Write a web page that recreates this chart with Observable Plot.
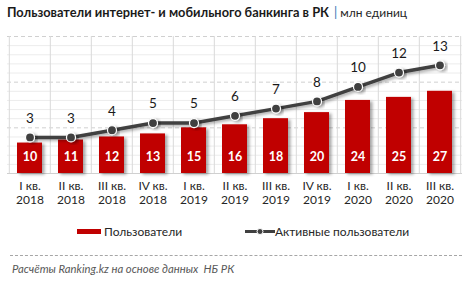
<!DOCTYPE html>
<html>
<head>
<meta charset="utf-8">
<script src="https://cdn.jsdelivr.net/npm/d3@7"></script>
<script src="https://cdn.jsdelivr.net/npm/@observablehq/plot@0.6"></script>
<style>
  html, body { margin: 0; padding: 0; background: #fff; }
  #wrap { position: relative; width: 472px; height: 283px; overflow: hidden; font-family: Lato, "Open Sans", sans-serif; }
  #title { position: absolute; left: 7px; top: 4px; font-size: 12.8px; font-weight: bold; color: #1a1a1a; white-space: nowrap; }
  #title .sep { color: #2e75b6; font-weight: normal; margin: 0 3px 0 5px; }
  #title .unit { font-weight: normal; color: #262626; font-size: 12px; }
  #chart { position: absolute; left: 0; top: 26px; }
  .leg { position: absolute; top: 224px; font-size: 12px; color: #262626; white-space: nowrap; }
  #sepline { position: absolute; left: 10px; top: 255px; width: 452px; border-top: 1px dashed #a6a6a6; }
  #caption { position: absolute; left: 12px; top: 262px; font-size: 11.3px; font-style: italic; color: #595959; white-space: nowrap; }
</style>
</head>
<body>
<div id="wrap">
  <div id="title">Пользователи интернет- и мобильного банкинга в РК<span class="sep">|</span><span class="unit">млн единиц</span></div>
  <div id="chart"></div>
  <div class="leg" style="left:77px"><svg width="27" height="12" style="vertical-align:-1px"><rect x="0" y="4" width="24" height="5" fill="#c00000"></rect></svg>Пользователи</div>
  <div class="leg" style="left:245px"><svg width="30" height="12" style="vertical-align:-1px"><line x1="0" x2="30" y1="6.5" y2="6.5" stroke="#404040" stroke-width="3"></line><circle cx="15" cy="6.5" r="3" fill="#404040" stroke="#fff" stroke-width="1"></circle></svg>Активные пользователи</div>
  <div id="sepline"></div>
  <div id="caption">Расчёты Ranking.kz на основе данных&nbsp; НБ РК</div>
</div>
<script>
// Quarters and their two-line labels
const quarters = ["I кв.", "II кв.", "III кв.", "IV кв.", "I кв.", "II кв.", "III кв.", "IV кв.", "I кв.", "II кв.", "III кв."];
const years = ["2018", "2018", "2018", "2018", "2019", "2019", "2019", "2019", "2020", "2020", "2020"];
// Users, million
const users = [10, 11, 12, 13, 15, 16, 18, 20, 24, 25, 27];
// Active users, million
const activeUsers = [3, 3, 4, 5, 5, 6, 7, 8, 10, 12, 13];

const keys = quarters.map((q, i) => `${q}\n${years[i]}`);
const data = keys.map((k, i) => ({key: k, users: users[i], active: activeUsers[i]}));

// Primary axis for bars, secondary axis for the line mapped onto it
const yMax = 45;
const y2 = d3.scaleLinear([-2, 17], [0, yMax]);

const W = 472, H = 184, ml = 7, mr = 10, mt = 10, mb = 37;
const bw = (W - ml - mr) / keys.length;

const minor = d3.range(0, yMax + 1, 3).filter(v => v % 15 !== 0);
const major = [15, 30, 45];

const plot = Plot.plot({
  width: W,
  height: H,
  marginLeft: ml,
  marginRight: mr,
  marginTop: mt,
  marginBottom: mb,
  style: {fontFamily: "Lato, 'Open Sans', sans-serif", background: "transparent"},
  x: {domain: keys, padding: 0, label: null},
  y: {domain: [0, yMax], axis: null},
  marks: [
    Plot.ruleY(minor, {stroke: "#ececec", strokeWidth: 1}),
    Plot.ruleY(major, {stroke: "#d0d0d0", strokeWidth: 1, strokeDasharray: "4,3"}),
    Plot.ruleY([0], {stroke: "#d0d0d0", strokeWidth: 1}),
    Plot.ruleX(keys, {x: d => d, dx: -bw / 2, stroke: "#d9d9d9"}),
    Plot.ruleX(keys.slice(-1), {x: d => d, dx: bw / 2, stroke: "#d9d9d9"}),
    Plot.barY(data, {x: "key", y: "users", fill: "#c00000", insetLeft: 8, insetRight: 8}),
    Plot.text(data, {x: "key", text: d => String(d.users), frameAnchor: "bottom", dy: -13, fill: "#fff", fontWeight: "bold", fontSize: 12.5}),
    Plot.line(data, {x: "key", y: d => y2(d.active), stroke: "#404040", strokeWidth: 3.5}),
    Plot.dot(data, {x: "key", y: d => y2(d.active), r: 4.5, fill: "#404040", stroke: "#fff", strokeWidth: 1.2}),
    Plot.text(data, {x: "key", y: d => y2(d.active), text: d => String(d.active), dy: -19, fill: "#1a1a1a", fontSize: 13.5}),
    Plot.axisX({tickSize: 0, tickPadding: 7, fontSize: 12, lineHeight: 1.15, fill: "#262626", tickFormat: d => d})
  ]
});

// Soft drop shadows on the bars and markers
const defs = d3.select(plot).insert("defs", ":first-child");
const f = defs.append("filter").attr("id", "shadow").attr("x", "-30%").attr("y", "-30%").attr("width", "160%").attr("height", "160%");
f.append("feDropShadow").attr("dx", 2.5).attr("dy", 1.5).attr("stdDeviation", 1.5).attr("flood-color", "#000").attr("flood-opacity", 0.35);
d3.select(plot).selectAll('g[aria-label="bar"] rect').attr("filter", "url(#shadow)");
d3.select(plot).selectAll('g[aria-label="line"] path').attr("filter", "url(#shadow)");
d3.select(plot).selectAll('g[aria-label="dot"] circle').attr("filter", "url(#shadow)");

document.getElementById("chart").appendChild(plot);
</script>
</body>
</html>
